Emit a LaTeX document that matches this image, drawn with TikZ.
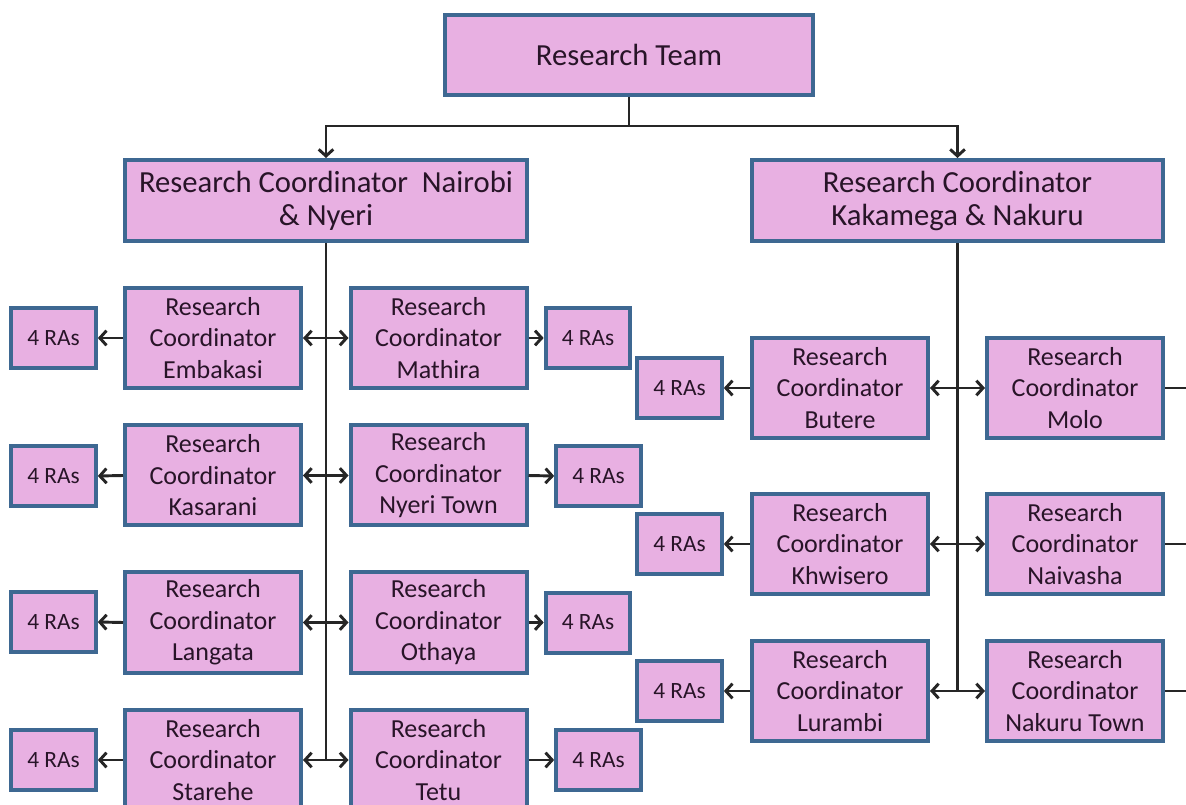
\documentclass[tikz,border=0pt]{standalone}
\usepackage{fontspec}
\setmainfont{Carlito}
\usetikzlibrary{arrows.meta}

\definecolor{boxfill}{RGB}{232,176,226}
\definecolor{boxline}{RGB}{62,104,146}
\definecolor{boxtext}{RGB}{40,20,40}

\tikzset{every picture/.style={line width=0.75pt}}
\tikzset{
  anybox/.style={draw=boxline, line width=3pt, fill=boxfill, text=boxtext, align=center, inner sep=0pt},
  headbox/.style={anybox, minimum width=276pt, minimum height=60pt, font=\fontsize{23}{24.75}\selectfont},
  leadbox/.style={anybox, minimum height=60.75pt, font=\fontsize{23}{24.75}\selectfont},
  subbox/.style={anybox, minimum width=132pt, minimum height=75pt, font=\fontsize{19.5}{23.6}\selectfont},
  rabox/.style={anybox, minimum width=63.5pt, minimum height=45pt, font=\fontsize{17.5}{19}\selectfont},
  link/.style={line width=2.2pt, black!85},
}

\begin{document}
\begin{tikzpicture}[x=0.75pt,y=0.75pt,yscale=-1,xscale=1,>={Straight Barb[length=5pt,width=11pt]}]
\useasboundingbox (0,0) rectangle (1186,805);

%Shape: Rectangle [top]
\node (team) at (629,55) [headbox] {Research Team};
%Shape: Rectangle [coordinators]
\node (nairobi) at (326,200.5) [leadbox, minimum width=301.5pt] {Research Coordinator~~Nairobi\\\& Nyeri};
\node (kakamega) at (957.5,200.5) [leadbox, minimum width=308.25pt] {Research Coordinator\\Kakamega \& Nakuru};

%Shape: Rectangle [Nairobi side]
\node (embakasi) at (213,338) [subbox] {Research\\Coordinator\\Embakasi};
\node (kasarani) at (213,475.5) [subbox] {Research\\Coordinator\\Kasarani};
\node (langata) at (213,622.5) [subbox] {Research\\Coordinator\\Langata};
\node (starehe) at (213,760) [subbox] {Research\\Coordinator\\Starehe};

%Shape: Rectangle [Nyeri side]
\node (mathira) at (438.5,338) [subbox] {Research\\Coordinator\\Mathira};
\node (nyeritown) at (438.5,475.5) [subbox] {Research\\Coordinator\\Nyeri Town};
\node (othaya) at (438.5,622.5) [subbox] {Research\\Coordinator\\Othaya};
\node (tetu) at (438.5,760) [subbox] {Research\\Coordinator\\Tetu};

%Shape: Rectangle [Kakamega side]
\node (butere) at (840,388) [subbox] {Research\\Coordinator\\Butere};
\node (khwisero) at (840,544) [subbox] {Research\\Coordinator\\Khwisero};
\node (lurambi) at (840,691) [subbox] {Research\\Coordinator\\Lurambi};

%Shape: Rectangle [Nakuru side]
\node (molo) at (1075,388) [subbox] {Research\\Coordinator\\Molo};
\node (naivasha) at (1075,544) [subbox] {Research\\Coordinator\\Naivasha};
\node (nakurutown) at (1075,691) [subbox] {Research\\Coordinator\\Nakuru Town};

%Shape: Rectangle [assistants]
\node (raEmbakasi) at (53.5,338) [rabox] {4 RAs};
\node (raKasarani) at (53.5,476) [rabox] {4 RAs};
\node (raLangata) at (53.5,622) [rabox] {4 RAs};
\node (raStarehe) at (53.5,760) [rabox] {4 RAs};
\node (raMathira) at (588,338) [rabox] {4 RAs};
\node (raNyeriTown) at (598.5,476) [rabox] {4 RAs};
\node (raOthaya) at (588,622.5) [rabox] {4 RAs};
\node (raTetu) at (598.5,760) [rabox] {4 RAs};
\node (raButere) at (679.5,388) [rabox] {4 RAs};
\node (raKhwisero) at (679.5,544) [rabox] {4 RAs};
\node (raLurambi) at (679.5,691) [rabox] {4 RAs};

\coordinate (bus) at (629,126);
\coordinate (rim) at (1186,0);

%Straight Lines [top]
\draw [link] (team.south) -- (bus);
\draw [link,->] (bus) -| (nairobi.north);
\draw [link,->] (bus) -| (kakamega.north);

%Straight Lines [trunks]
\draw [link] (nairobi.south) -- (nairobi.south |- starehe.east);
\draw [link] (kakamega.south) -- (kakamega.south |- lurambi.east);

%Straight Lines [Nairobi and Nyeri]
\draw [link,<->] (embakasi.east) -- (mathira.west);
\draw [link,<->] (kasarani.east) -- (nyeritown.west);
\draw [link,<->] (langata.east) -- (othaya.west);
\draw [link,<->] (starehe.east) -- (tetu.west);
\draw [link,->] (embakasi.west) -- (raEmbakasi.east);
\draw [link,->] (kasarani.west) -- (raKasarani.east);
\draw [link,->] (langata.west) -- (raLangata.east);
\draw [link,->] (starehe.west) -- (raStarehe.east);
\draw [link,->] (mathira.east) -- (raMathira.west);
\draw [link,->] (nyeritown.east) -- (raNyeriTown.west);
\draw [link,->] (othaya.east) -- (raOthaya.west);
\draw [link,->] (tetu.east) -- (raTetu.west);

%Straight Lines [Kakamega and Nakuru]
\draw [link,<->] (butere.east) -- (molo.west);
\draw [link,<->] (khwisero.east) -- (naivasha.west);
\draw [link,<->] (lurambi.east) -- (nakurutown.west);
\draw [link,->] (butere.west) -- (raButere.east);
\draw [link,->] (khwisero.west) -- (raKhwisero.east);
\draw [link,->] (lurambi.west) -- (raLurambi.east);
\draw [link] (molo.east) -- (molo.east -| rim);
\draw [link] (naivasha.east) -- (naivasha.east -| rim);
\draw [link] (nakurutown.east) -- (nakurutown.east -| rim);

\end{tikzpicture}
\end{document}
